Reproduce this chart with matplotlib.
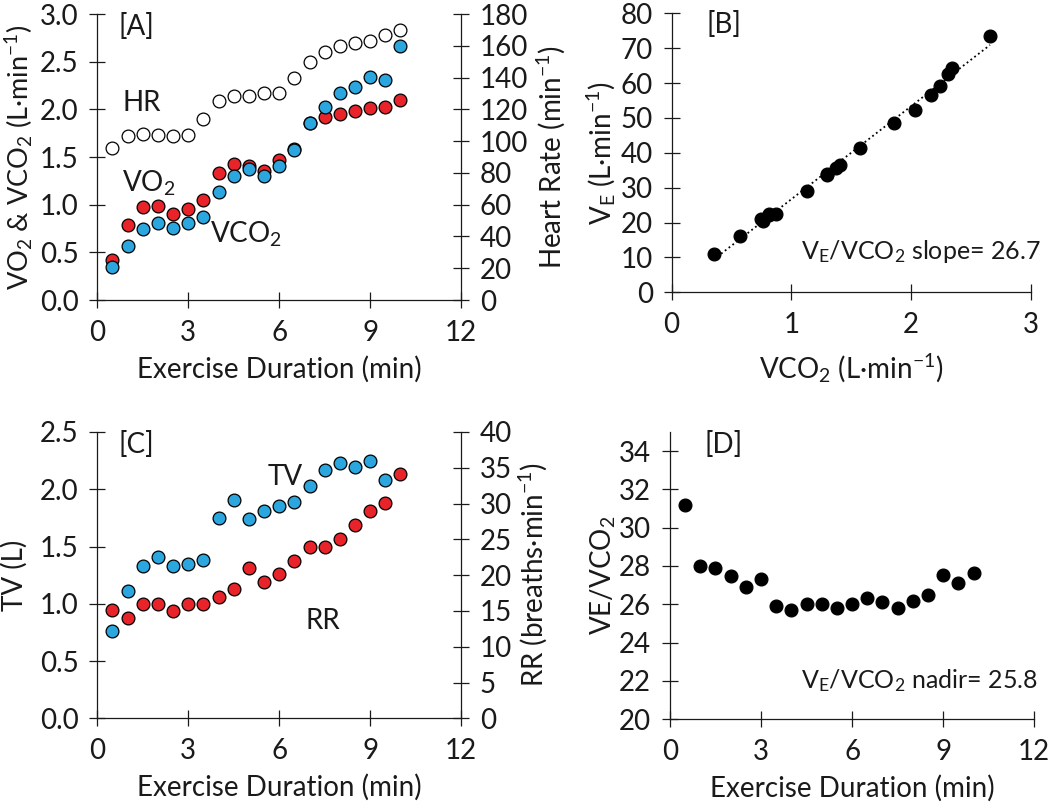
import matplotlib
matplotlib.use("Agg")
import matplotlib.pyplot as plt
import numpy as np

plt.rcParams["font.family"] = ["Lato", "DejaVu Sans"]
plt.rcParams["mathtext.fontset"] = "custom"
plt.rcParams["mathtext.rm"] = "Lato"
plt.rcParams["mathtext.it"] = "Lato:italic"
plt.rcParams["font.size"] = 20

RED = "#E8242A"
BLUE = "#2CA6DF"
INK = "#1a1a1a"

# --- data ---
time = [0.5, 1.0, 1.5, 2.0, 2.5, 3.0, 3.5, 4.0, 4.5, 5.0,
        5.5, 6.0, 6.5, 7.0, 7.5, 8.0, 8.5, 9.0, 9.5, 10.0]
vo2 = [0.42, 0.79, 0.98, 0.99, 0.90, 0.95, 1.05, 1.33, 1.43, 1.41,
       1.35, 1.47, 1.58, 1.86, 1.92, 1.95, 1.98, 2.01, 2.02, 2.10]
vco2 = [0.35, 0.57, 0.75, 0.81, 0.76, 0.81, 0.87, 1.13, 1.30, 1.37,
        1.30, 1.41, 1.57, 1.86, 2.03, 2.17, 2.24, 2.34, 2.31, 2.66]
hr = [96, 103, 104.5, 104, 103, 104, 114, 125, 128.5, 128.5,
      130.5, 130.5, 140, 150, 156, 160, 162, 163, 167, 170]
ve = [11.0, 16.1, 20.9, 22.4, 20.5, 22.2, 22.6, 29.1, 33.9, 35.7,
      33.6, 36.6, 41.4, 48.6, 52.4, 56.7, 59.3, 64.4, 62.7, 73.4]
ve_vco2 = [31.2, 28.0, 27.9, 27.5, 26.9, 27.3, 25.9, 25.7, 26.0, 26.0,
           25.8, 26.0, 26.35, 26.1, 25.8, 26.15, 26.5, 27.55, 27.1, 27.65]
tv_time = time[:19]
tv = [0.76, 1.11, 1.33, 1.41, 1.33, 1.35, 1.38, 1.75, 1.91, 1.74,
      1.81, 1.85, 1.89, 2.03, 2.17, 2.23, 2.19, 2.25, 2.08]
rr = [15.1, 14.0, 16.0, 16.0, 15.0, 16.0, 16.0, 17.0, 18.0, 21.0,
      19.0, 20.1, 22.0, 24.0, 24.0, 25.0, 27.0, 29.0, 30.1, 34.1]

MS = 9.2


def dots(ax, x, y, face):
    ax.plot(x, y, "o", ms=MS, mfc=face, mec="black", mew=0.9, ls="none", clip_on=False)


def style(ax, right=False):
    for s in ("top", "right", "left", "bottom"):
        ax.spines[s].set_visible(False)
    sides = ("right",) if right else ("left", "bottom")
    for s in sides:
        ax.spines[s].set_visible(True)
        ax.spines[s].set_linewidth(0.9)
        ax.spines[s].set_color(INK)
    ax.tick_params(direction="inout", length=11, width=0.9, colors=INK,
                   labelsize=20, pad=8)
    ax.tick_params(axis="x", pad=9)


def note(ax, x, y, s, size=20):
    ax.text(x, y, s, transform=ax.transAxes, va="baseline", ha="left",
            color=INK, fontsize=size)


fig = plt.figure(figsize=(10.5, 8.1), dpi=100)

# [A]
axA = fig.add_axes([0.0927, 0.6296, 0.3464, 0.353])
axA2 = axA.twinx()
style(axA); style(axA2, right=True)
axA.set_xlim(0, 12); axA.set_ylim(0, 3.0)
axA.set_xticks([0, 3, 6, 9, 12]); axA.set_yticks(np.arange(0, 3.01, 0.5))
axA.yaxis.set_major_formatter(matplotlib.ticker.FormatStrFormatter("%.1f"))
axA2.set_ylim(0, 180); axA2.set_yticks(range(0, 181, 20))
dots(axA, time, vo2, RED)
dots(axA, time, vco2, BLUE)
dots(axA2, time, hr, "white")
axA.set_xlabel("Exercise Duration (min)", color=INK)
axA.set_ylabel("VO$_2$ & VCO$_2$ (L·min$^{-1}$)", color=INK, fontsize=19.5)
axA2.set_ylabel("Heart Rate (min$^{-1}$)", color=INK)
axA.xaxis.set_label_coords(0.5, -0.195)
axA.yaxis.set_label_coords(-0.172, 0.5)
axA2.yaxis.set_label_coords(1.2, 0.5)
note(axA, 0.057, 0.927, "[A]")
note(axA, 0.068, 0.662, "HR")
note(axA, 0.068, 0.378, "VO$_2$")
note(axA, 0.31, 0.2, "VCO$_2$")

# [B]
axB = fig.add_axes([0.6397, 0.6391, 0.3419, 0.3444])
style(axB)
axB.set_xlim(0, 3); axB.set_ylim(0, 80)
axB.set_xticks([0, 1, 2, 3]); axB.set_yticks(range(0, 81, 10))
k, b = np.polyfit(vco2, ve, 1)
xs = np.array([min(vco2), max(vco2)])
axB.plot(xs, k * xs + b, ":", color="black", lw=1.3)
dots(axB, vco2, ve, "black")
axB.set_xlabel("VCO$_2$ (L·min$^{-1}$)", color=INK)
axB.set_ylabel("V$_\\mathrm{E}$ (L·min$^{-1}$)", color=INK)
axB.xaxis.set_label_coords(0.5, -0.212)
axB.yaxis.set_label_coords(-0.15, 0.5)
note(axB, 0.098, 0.929, "[B]")
note(axB, 0.36, 0.118, "V$_\\mathrm{E}$/VCO$_2$ slope= 26.7", size=18)

# [C]
axC = fig.add_axes([0.0927, 0.1132, 0.3464, 0.3535])
axC2 = axC.twinx()
style(axC); style(axC2, right=True)
axC.set_xlim(0, 12); axC.set_ylim(0, 2.5)
axC.set_xticks([0, 3, 6, 9, 12]); axC.set_yticks(np.arange(0, 2.51, 0.5))
axC.yaxis.set_major_formatter(matplotlib.ticker.FormatStrFormatter("%.1f"))
axC2.set_ylim(0, 40); axC2.set_yticks(range(0, 41, 5))
dots(axC, tv_time, tv, BLUE)
dots(axC2, time, rr, RED)
axC.set_xlabel("Exercise Duration (min)", color=INK)
axC.set_ylabel("TV (L)", color=INK)
axC2.set_ylabel("RR (breaths·min$^{-1}$)", color=INK)
axC.xaxis.set_label_coords(0.5, -0.195)
axC.yaxis.set_label_coords(-0.19, 0.5)
axC2.yaxis.set_label_coords(1.153, 0.5)
note(axC, 0.057, 0.927, "[C]")
note(axC, 0.469, 0.815, "TV")
note(axC, 0.571, 0.312, "RR")

# [D]
axD = fig.add_axes([0.638, 0.1123, 0.347, 0.3543])
style(axD)
axD.set_xlim(0, 12); axD.set_ylim(20, 35)
axD.set_xticks([0, 3, 6, 9, 12]); axD.set_yticks(range(20, 35, 2))
dots(axD, time, ve_vco2, "black")
axD.set_xlabel("Exercise Duration (min)", color=INK)
axD.set_ylabel("VE/VCO$_2$", color=INK)
axD.xaxis.set_label_coords(0.5, -0.195)
axD.yaxis.set_label_coords(-0.143, 0.5)
note(axD, 0.096, 0.926, "[D]")
note(axD, 0.36, 0.107, "V$_\\mathrm{E}$/VCO$_2$ nadir= 25.8", size=18)

fig.savefig("out.png", dpi=100)
